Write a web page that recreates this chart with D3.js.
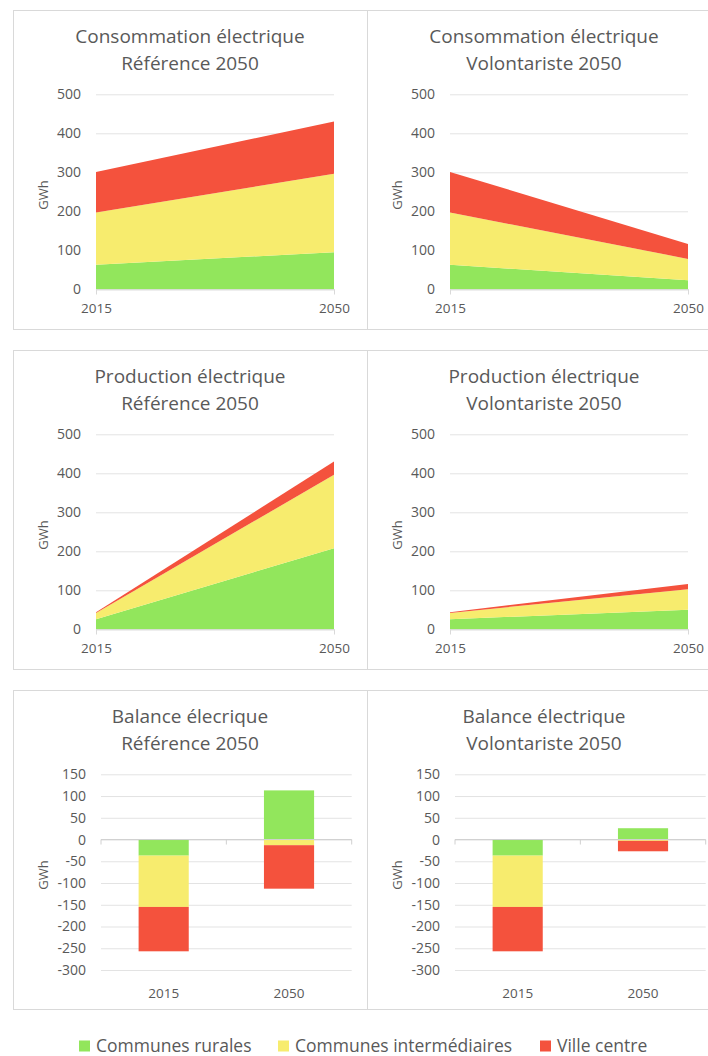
<!DOCTYPE html>
<html lang="fr">
<head>
<meta charset="utf-8">
<script src="https://cdn.jsdelivr.net/npm/d3@7"></script>
<style>
  html, body { margin: 0; padding: 0; background: #fff; }
  svg { display: block; font-family: "Open Sans", sans-serif; }
  text { fill: #595959; }
</style>
</head>
<body>
<svg id="chart" width="708" height="1056"></svg>
<script>
// ---- Data (GWh) ----
const years = [2015, 2050];
const seriesKeys = ["rurales", "intermediaires", "ville"];
const seriesLabels = ["Communes rurales", "Communes intermédiaires", "Ville centre"];
const seriesColors = ["#92e65c", "#f7ec6e", "#f4523d"];

const consoReference = [
  { year: 2015, rurales: 63, intermediaires: 134, ville: 104 },
  { year: 2050, rurales: 95, intermediaires: 201, ville: 134 }
];
const consoVolontariste = [
  { year: 2015, rurales: 63, intermediaires: 134, ville: 104 },
  { year: 2050, rurales: 23, intermediaires: 55, ville: 38 }
];
const prodReference = [
  { year: 2015, rurales: 26, intermediaires: 16, ville: 2 },
  { year: 2050, rurales: 208, intermediaires: 188, ville: 34 }
];
const prodVolontariste = [
  { year: 2015, rurales: 26, intermediaires: 16, ville: 2 },
  { year: 2050, rurales: 50, intermediaires: 53, ville: 13 }
];
const balanceReference = [
  { year: "2015", rurales: -37, intermediaires: -118, ville: -102 },
  { year: "2050", rurales: 113, intermediaires: -13, ville: -100 }
];
const balanceVolontariste = [
  { year: "2015", rurales: -37, intermediaires: -118, ville: -102 },
  { year: "2050", rurales: 26, intermediaires: -3, ville: -24 }
];

const areaTicks = [0, 100, 200, 300, 400, 500];
const balanceTicks = [-300, -250, -200, -150, -100, -50, 0, 50, 100, 150];

const panels = [
  { col: 0, row: 0, type: "area", title: ["Consommation électrique", "Référence 2050"], data: consoReference },
  { col: 1, row: 0, type: "area", title: ["Consommation électrique", "Volontariste 2050"], data: consoVolontariste },
  { col: 0, row: 1, type: "area", title: ["Production électrique", "Référence 2050"], data: prodReference },
  { col: 1, row: 1, type: "area", title: ["Production électrique", "Volontariste 2050"], data: prodVolontariste },
  { col: 0, row: 2, type: "bar", title: ["Balance élecrique", "Référence 2050"], data: balanceReference },
  { col: 1, row: 2, type: "bar", title: ["Balance électrique", "Volontariste 2050"], data: balanceVolontariste }
];

// ---- Layout ----
const panelW = 354, panelH = 319;
const colX = [13, 367];
const rowY = [10, 350, 690];
const gridColor = "#e3e3e3";
const borderColor = "#d9d9d9";
const tickFont = "14px";
const catFont = "13.5px";
const plainNumber = d => String(d); // keeps an ASCII hyphen for negatives

const svg = d3.select("#chart");

panels.forEach(p => {
  const g = svg.append("g")
    .attr("transform", `translate(${colX[p.col]},${rowY[p.row]})`);

  g.append("rect")
    .attr("x", 0.5).attr("y", 0.5)
    .attr("width", panelW).attr("height", panelH)
    .attr("fill", "none").attr("stroke", borderColor);

  // Two-line title
  const title = g.append("text")
    .attr("text-anchor", "middle")
    .style("font-size", "19px");
  p.title.forEach((line, i) => {
    title.append("tspan").attr("x", 177).attr("y", 33 + i * 27).text(line);
  });

  if (p.type === "area") drawArea(g, p.data);
  else drawBars(g, p.data);

  // Y axis title
  g.append("text")
    .attr("transform", "translate(35,185) rotate(-90)")
    .attr("text-anchor", "middle")
    .style("font-size", "13px")
    .text("GWh");
});

function styleTicks(sel, size) {
  sel.selectAll(".tick text")
    .style("font-size", size)
    .style("font-family", "Open Sans")
    .attr("fill", "#595959");
}

function drawArea(g, data) {
  const x = d3.scaleLinear().domain(d3.extent(years)).range([83, 321]);
  const y = d3.scaleLinear().domain([0, 500]).range([279.3, 84.3]);

  const yAxis = d3.axisLeft(y).tickValues(areaTicks).tickFormat(plainNumber)
    .tickSize(-(x.range()[1] - x.range()[0])).tickPadding(15);
  const ga = g.append("g").attr("transform", `translate(${x.range()[0]},0)`).call(yAxis);
  ga.select(".domain").remove();
  ga.selectAll(".tick line").attr("stroke", gridColor);
  styleTicks(ga, tickFont);

  const layers = d3.stack().keys(seriesKeys)(data);
  const area = d3.area()
    .x(d => x(d.data.year))
    .y0(d => y(d[0]))
    .y1(d => y(d[1]));
  g.append("g").selectAll("path")
    .data(layers)
    .join("path")
    .attr("d", area)
    .attr("fill", (d, i) => seriesColors[i]);

  const xAxis = d3.axisBottom(x).tickValues(years).tickFormat(plainNumber)
    .tickSize(5).tickPadding(9);
  const gx = g.append("g").attr("transform", `translate(0,${y(0)})`).call(xAxis);
  gx.select(".domain").attr("stroke", borderColor);
  gx.selectAll(".tick line").attr("stroke", borderColor);
  styleTicks(gx, catFont);
}

function drawBars(g, data) {
  const x = d3.scaleBand().domain(data.map(d => d.year))
    .range([88, 338.7]).paddingInner(0.6).paddingOuter(0.3);
  const y = d3.scaleLinear().domain([-300, 150]).range([280, 84.3]);
  const x0 = x.range()[0], x1 = x.range()[1];

  const yAxis = d3.axisLeft(y).tickValues(balanceTicks).tickFormat(plainNumber)
    .tickSize(-(x1 - x0)).tickPadding(15);
  const ga = g.append("g").attr("transform", `translate(${x0},0)`).call(yAxis);
  ga.select(".domain").remove();
  ga.selectAll(".tick line").attr("stroke", gridColor);
  styleTicks(ga, tickFont);

  const layers = d3.stack().keys(seriesKeys).offset(d3.stackOffsetDiverging)(data);
  g.append("g").selectAll("g")
    .data(layers)
    .join("g")
    .attr("fill", (d, i) => seriesColors[i])
    .selectAll("rect")
    .data(d => d)
    .join("rect")
    .attr("x", d => x(d.data.year))
    .attr("width", x.bandwidth())
    .attr("y", d => y(Math.max(d[0], d[1])))
    .attr("height", d => Math.abs(y(d[0]) - y(d[1])));

  // Zero line with category separators
  const bounds = d3.range(data.length + 1).map(i => x0 + i * (x1 - x0) / data.length);
  const zero = g.append("g").attr("transform", `translate(0,${y(0)})`);
  zero.append("line").attr("x1", x0).attr("x2", x1).attr("stroke", "#d0d0d0");
  zero.selectAll("line.sep").data(bounds).join("line")
    .attr("class", "sep")
    .attr("x1", d => d).attr("x2", d => d)
    .attr("y1", 0).attr("y2", 5)
    .attr("stroke", "#d0d0d0");

  // Category labels at the bottom
  g.append("g").selectAll("text")
    .data(data)
    .join("text")
    .attr("x", d => x(d.year) + x.bandwidth() / 2)
    .attr("y", 307.5)
    .attr("text-anchor", "middle")
    .style("font-size", catFont)
    .text(d => d.year);
}

// ---- Legend ----
const legendX = [79, 278, 540];
const legend = svg.append("g").attr("transform", "translate(0,1046)");
seriesLabels.forEach((label, i) => {
  const item = legend.append("g").attr("transform", `translate(${legendX[i]},0)`);
  item.append("rect").attr("x", 0).attr("y", -5.5).attr("width", 11).attr("height", 11)
    .attr("fill", seriesColors[i]);
  item.append("text").attr("x", 17).attr("y", 5.5).style("font-size", "17.5px").text(label);
});
</script>
</body>
</html>
